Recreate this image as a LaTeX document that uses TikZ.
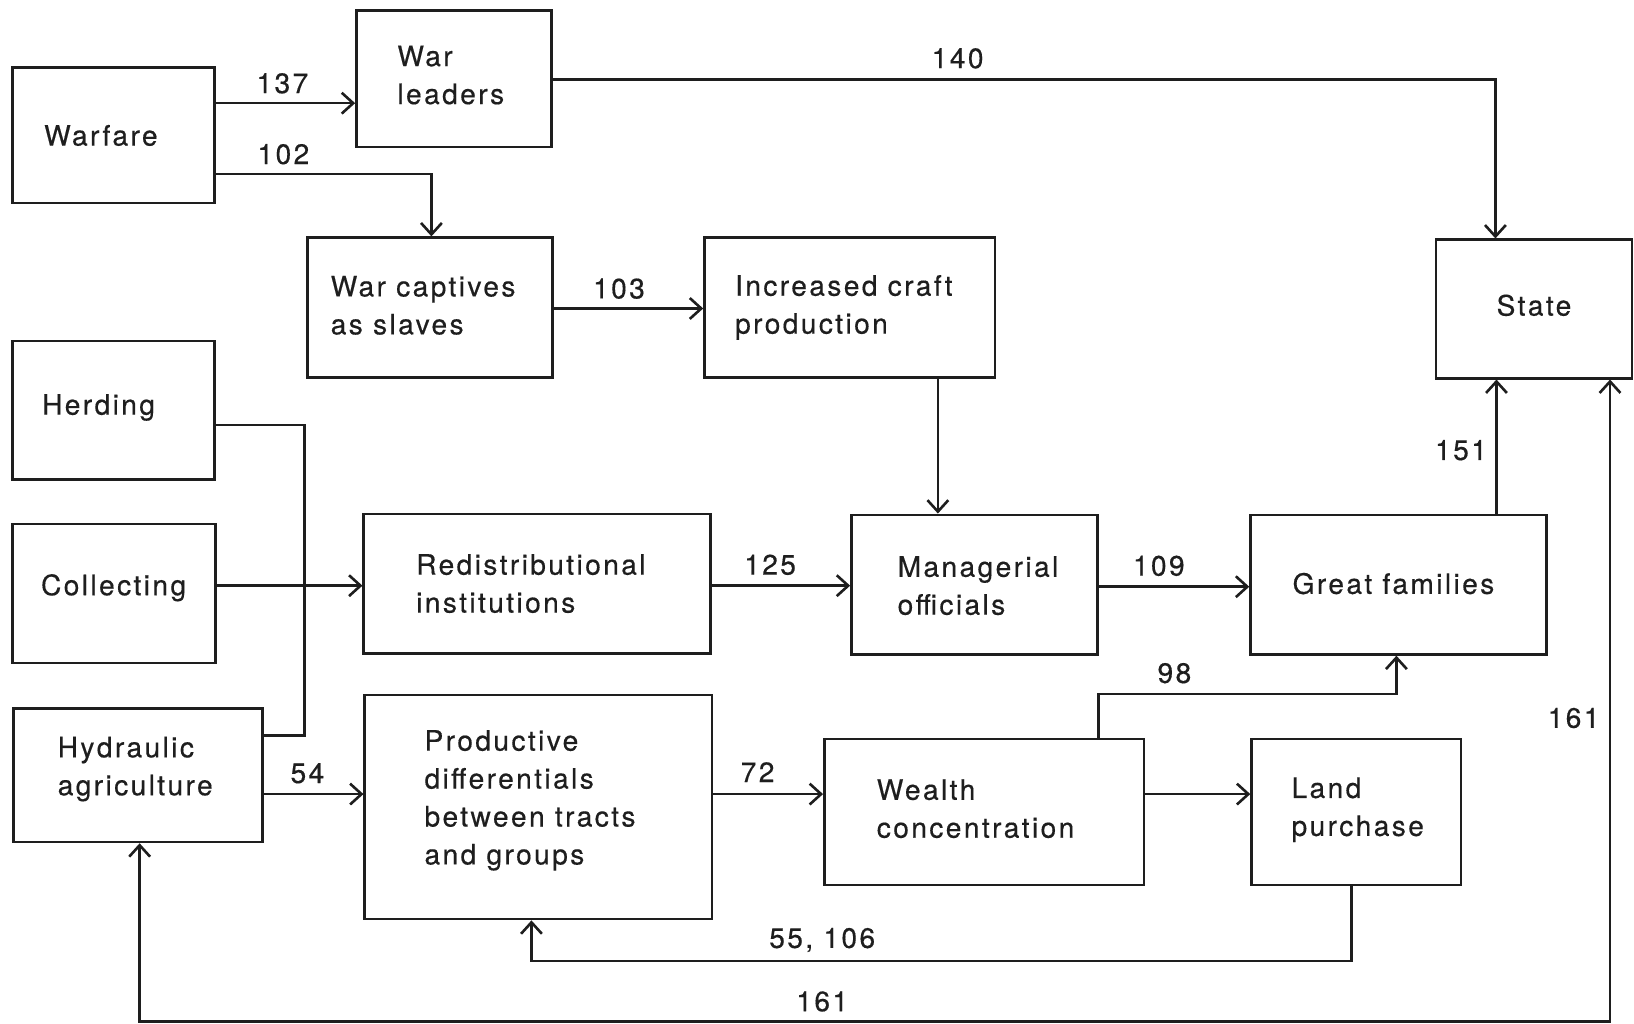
\documentclass[tikz,border=0pt]{standalone}
\usepackage{fontspec}
\setmainfont{TeX Gyre Heros}[LetterSpace=8.5,FakeBold=0.4]
\usetikzlibrary{arrows.meta,fit}
\definecolor{ink}{HTML}{1E1E1E}
\begin{document}
\begin{tikzpicture}[x=0.5pt,y=-0.5pt,
  box/.style={draw=ink,line width=1.2pt,inner sep=0pt,rectangle},
  txt/.style={anchor=west,align=left,inner sep=0pt,text=ink,font=\fontsize{13.5}{18.2}\selectfont},
  lbl/.style={inner sep=0pt,text=ink,font=\fontsize{13.5}{18.2}\selectfont},
  line/.style={draw=ink,line width=1.25pt},
  arr/.style={line,-{Straight Barb[length=5.5pt,width=10pt,line width=1.25pt]}},
  darr/.style={line,{Straight Barb[length=5.5pt,width=10pt,line width=1.25pt]}-{Straight Barb[length=5.5pt,width=10pt,line width=1.25pt]}}]
\useasboundingbox[fill=white] (0,0) rectangle (1568,982);

% boxes
\node[box,fit={(12,65)(206,195)}] (warfare) {};
\node[txt] (twarfare) at (42,130) {Warfare};
\node[box,fit={(342,10)(529,141)}] (leaders) {};
\node[txt] (tleaders) at (381,72) {War\\leaders};
\node[box,fit={(295,228)(530,362)}] (captives) {};
\node[txt] (tcaptives) at (317,293) {War captives\\as slaves};
\node[box,fit={(676,228)(955,362)}] (craft) {};
\node[txt] (tcraft) at (705,295) {Increased craft\\production};
\node[box,fit={(1378,230)(1566,363)}] (state) {};
\node[lbl] (tstate) at (1472,293) {State};
\node[box,fit={(12,327)(206,460)}] (herding) {};
\node[txt] (therding) at (40,391) {Herding};
\node[box,fit={(12,503)(207,636)}] (collecting) {};
\node[txt] (tcollecting) at (39,564) {Collecting};
\node[box,fit={(349,493)(682,627)}] (redis) {};
\node[txt] (tredis) at (399,560) {Redistributional\\institutions};
\node[box,fit={(817,494)(1053,628)}] (mgr) {};
\node[txt] (tmgr) at (861,562) {Managerial\\officials};
\node[box,fit={(1200,494)(1484,628)}] (great) {};
\node[txt] (tgreat) at (1240,560) {Great families};
\node[box,fit={(13,680)(252,808)}] (hyd) {};
\node[txt] (thyd) at (55,738) {Hydraulic\\agriculture};
\node[box,fit={(350,667)(683,882)}] (prod) {};
\node[txt] (tprod) at (407,768) {Productive\\differentials\\between tracts\\and groups};
\node[box,fit={(791,709)(1098,849)}] (wealth) {};
\node[txt] (twealth) at (841,776) {Wealth\\concentration};
\node[box,fit={(1201,709)(1402,849)}] (land) {};
\node[txt] (tland) at (1239,777) {Land\\purchase};

% connectors
\draw[arr] (warfare.east |- 0,99) -- (leaders.west |- 0,99);
\draw[arr] (warfare.east |- 0,167) -- (414,167) -- (captives.north -| 414,0);
\draw[arr] (leaders.east |- 0,76) -- (1435,76) -- (state.north -| 1435,0);
\draw[arr] (captives.east |- 0,296) -- (craft.west |- 0,296);
\draw[arr] (craft.south -| 900,0) -- (mgr.north -| 900,0);
\draw[line] (herding.east |- 0,408) -- (292,408) -- (292,706) -- (hyd.east |- 0,706);
\draw[arr] (collecting.east |- 0,562) -- (redis.west |- 0,562);
\draw[arr] (redis.east |- 0,562) -- (mgr.west |- 0,562);
\draw[arr] (mgr.east |- 0,563) -- (great.west |- 0,563);
\draw[arr] (great.north -| 1436,0) -- (state.south -| 1436,0);
\draw[arr] (hyd.east |- 0,762) -- (prod.west |- 0,762);
\draw[arr] (prod.east |- 0,762) -- (wealth.west |- 0,762);
\draw[arr] (wealth.east |- 0,762) -- (land.west |- 0,762);
\draw[arr] (wealth.north -| 1054,0) -- (1054,666) -- (1340,666) -- (great.south -| 1340,0);
\draw[arr] (land.south -| 1297,0) -- (1297,922) -- (510,922) -- (prod.south -| 510,0);
\draw[darr] (hyd.south -| 134,0) -- (134,980) -- (1545,980) -- (state.south -| 1545,0);

% labels
\node[lbl] (l137) at (271,80) {137};
\node[lbl] (l102) at (272,148) {102};
\node[lbl] (l140) at (919,56) {140};
\node[lbl] (l103) at (594,277) {103};
\node[lbl] (l125) at (739,542) {125};
\node[lbl] (l109) at (1112,543) {109};
\node[lbl] (l151) at (1402,432) {151};
\node[lbl] (l54) at (295,742) {54};
\node[lbl] (l72) at (727,741) {72};
\node[lbl] (l98) at (1127,646) {98};
\node[lbl] (l161a) at (1510,689) {161};
\node[lbl] (l55) at (789,902) {55, 106};
\node[lbl] (l161b) at (789,961) {161};
\end{tikzpicture}
\end{document}
